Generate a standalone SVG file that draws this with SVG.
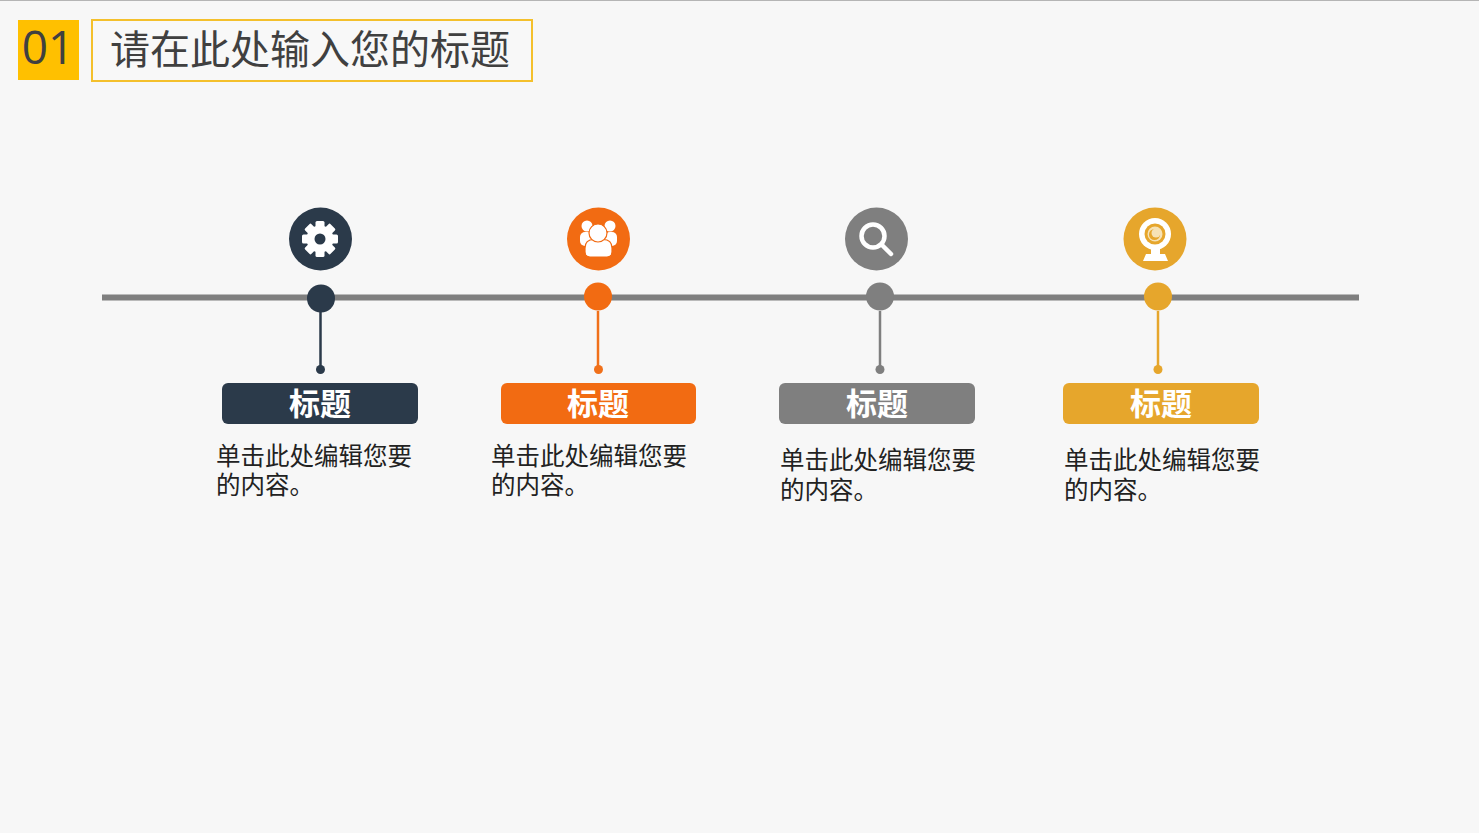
<svg xmlns="http://www.w3.org/2000/svg" width="1479" height="833" viewBox="0 0 1479 833">
<style>
.cjk{font-family:"Noto Sans CJK SC","Liberation Sans",sans-serif}
.h{font-size:31px;font-weight:700;fill:#fff;text-anchor:middle}
.b{font-size:24.5px;fill:#222;font-family:"Noto Sans CJK SC",sans-serif;font-weight:400}
</style>
<rect width="1479" height="833" fill="#f7f7f7"/>
<rect width="1479" height="1" fill="#b5b5b5"/>
<g id="title-number"><rect x="18" y="20" width="61" height="60" fill="#ffc000"/><text x="48" y="64" font-size="46" text-anchor="middle" fill="#404040" font-family="'Open Sans','Liberation Sans',sans-serif">01</text></g>
<g id="title-box"><rect x="92" y="20" width="440" height="61" fill="#f8f8f8" stroke="#f4c02c" stroke-width="2"/><text x="110" y="64" font-size="40" fill="#404040" class="cjk" font-weight="400">请在此处输入您的标题</text></g>
<g id="connectors">
<line x1="102" y1="297.500" x2="1359" y2="297.500" stroke="#7f7f7f" stroke-width="6"/>
<line x1="320.500" y1="312" x2="320.500" y2="369" stroke="#2b3a4a" stroke-width="2.500"/>
<line x1="598" y1="311" x2="598" y2="369" stroke="#f0701a" stroke-width="2.500"/>
<line x1="880" y1="311" x2="880" y2="369" stroke="#7f7f7f" stroke-width="2.500"/>
<line x1="1158" y1="311" x2="1158" y2="369" stroke="#e6a62c" stroke-width="2.500"/>
</g>
<g id="node-1">
<circle cx="320.500" cy="239" r="31.500" fill="#2b3a4a"/>
<g transform="translate(320 239)"><g fill="#fff"><rect x="-4.500" y="-18" width="9" height="36" rx="1.500"/><rect x="-4.500" y="-18" width="9" height="36" rx="1.500" transform="rotate(45)"/><rect x="-4.500" y="-18" width="9" height="36" rx="1.500" transform="rotate(90)"/><rect x="-4.500" y="-18" width="9" height="36" rx="1.500" transform="rotate(135)"/><circle r="13.500"/></g><circle r="5.500" fill="#2b3a4a"/></g>
<circle cx="321" cy="298.500" r="14" fill="#2b3a4a"/><circle cx="320.500" cy="369.500" r="4.500" fill="#2b3a4a"/>
<rect x="222" y="383" width="196" height="41" rx="6" fill="#2b3a4a"/>
<text class="h cjk" x="320" y="415">标题</text>
<text class="b" x="216" y="465">单击此处编辑您要</text><text class="b" x="216" y="494">的内容。</text>
</g>
<g id="node-2">
<circle cx="598.500" cy="239" r="31.500" fill="#f26b12"/>
<g fill="#fff"><circle cx="587" cy="226" r="5.500"/><circle cx="610" cy="226" r="5.500"/><rect x="580" y="232" width="12" height="14" rx="5"/><rect x="605" y="232" width="12" height="14" rx="5"/></g>
<path d="M585 252V248Q585 239.500 594 239.500H603Q612 239.500 612 248V252Q612 257 607 257H590Q585 257 585 252Z" fill="#fff" stroke="#f26b12" stroke-width="1.200"/>
<circle cx="598" cy="233" r="9" fill="#fff" stroke="#f26b12" stroke-width="1.200"/>
<circle cx="598" cy="296.500" r="14" fill="#f26b12"/><circle cx="598.500" cy="369.500" r="4.500" fill="#f0701a"/>
<rect x="501" y="383" width="195" height="41" rx="6" fill="#f26b12"/>
<text class="h cjk" x="598" y="415">标题</text>
<text class="b" x="491" y="465">单击此处编辑您要</text><text class="b" x="491" y="494">的内容。</text>
</g>
<g id="node-3">
<circle cx="876.500" cy="239" r="31.500" fill="#7f7f7f"/>
<circle cx="873" cy="236" r="11.500" fill="none" stroke="#fff" stroke-width="4.500"/>
<line x1="882" y1="245" x2="891" y2="254" stroke="#fff" stroke-width="4.500" stroke-linecap="round"/>
<circle cx="880" cy="296.500" r="14" fill="#7f7f7f"/><circle cx="880" cy="369.500" r="4.500" fill="#7f7f7f"/>
<rect x="779" y="383" width="196" height="41" rx="6" fill="#7f7f7f"/>
<text class="h cjk" x="877" y="415">标题</text>
<text class="b" x="780" y="469">单击此处编辑您要</text><text class="b" x="780" y="499">的内容。</text>
</g>
<g id="node-4">
<circle cx="1155" cy="239" r="31.500" fill="#e6a62c"/>
<circle cx="1155" cy="234" r="16" fill="#fff"/>
<circle cx="1155" cy="234" r="10.500" fill="#e6a62c"/>
<circle cx="1155" cy="234" r="7.500" fill="#f6e2b5"/>
<circle cx="1154.500" cy="234.500" r="5.500" fill="#e6a62c"/>
<circle cx="1156" cy="233" r="4.500" fill="#f6e2b5"/>
<path d="M1151 249H1160V254H1165L1168 261H1143L1146 254H1151Z" fill="#fff"/>
<circle cx="1158" cy="296.500" r="14" fill="#e6a62c"/><circle cx="1158" cy="369.500" r="4.500" fill="#e6a62c"/>
<rect x="1063" y="383" width="196" height="41" rx="6" fill="#e6a62c"/>
<text class="h cjk" x="1161" y="415">标题</text>
<text class="b" x="1064" y="469">单击此处编辑您要</text><text class="b" x="1064" y="499">的内容。</text>
</g>
</svg>
